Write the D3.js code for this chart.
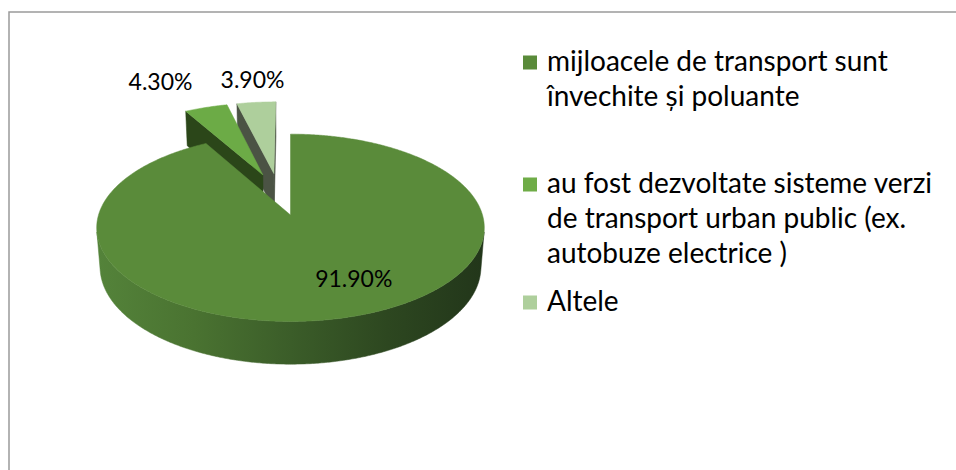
<!DOCTYPE html>
<html>
<head>
<meta charset="utf-8">
<script src="https://cdn.jsdelivr.net/npm/d3@7"></script>
<style>
  html, body { margin: 0; background: #fff; }
  svg { display: block; }
  text { font-family: Lato, "Open Sans", sans-serif; fill: #000; }
</style>
</head>
<body>
<script>
// ---- data ----
const categories = [
  "mijloacele de transport sunt învechite și poluante",
  "au fost dezvoltate sisteme verzi de transport urban public (ex. autobuze electrice )",
  "Altele"
];
const legendLines = [
  ["mijloacele de transport sunt", "învechite și poluante"],
  ["au fost dezvoltate sisteme verzi", "de transport urban public (ex.", "autobuze electrice )"],
  ["Altele"]
];
const values = [91.9, 4.3, 3.9];
const valueLabels = ["91.90%", "4.30%", "3.90%"];

// ---- styles ----
const topColors = ["#5a8b3a", "#6cab46", "#aecf9c"];
const cutColors = ["#2c4a1b", "#2b4619", "#4b5344"];
const swatchColors = ["#5a8b3a", "#6fac47", "#aecf9c"];

// ---- layout ----
const W = 956, H = 470;
const deg = Math.PI / 180;
const R = 192, thick = 45, explode = 47, tilt = 28.6 * deg, camDist = 1235;
const apexX = 290.5, apexY = 215;           // screen point of the largest wedge's apex
const labelNudge = [[7, -30], [-45.5, -17.5], [-3.7, -14]];
const legendX = 523, legendTextX = 547, swatch = 14, lineH = 35;
const legendBaselines = [71, 193, 311];

const svg = d3.select("body").append("svg")
  .attr("width", W).attr("height", H);

// chart frame (runs past the right and bottom edges)
svg.append("rect")
  .attr("x", 9).attr("y", 12)
  .attr("width", W).attr("height", H)
  .attr("fill", "none").attr("stroke", "#9a9a9a").attr("stroke-width", 1.5);

// ---- 3D pie geometry ----
const arcs = d3.pie().sort(null).value(d => d)(values).map((a, i) => {
  const mid = (a.startAngle + a.endAngle) / 2;
  return { ...a, i, mid, ox: explode * Math.sin(mid), oz: -explode * Math.cos(mid) };
});
const fx = arcs[0].ox, fz = arcs[0].oz;
const cam = [fx, camDist * Math.sin(tilt), fz + camDist * Math.cos(tilt)];

function project([x, y, z]) {
  const dx = x - fx, dz = z - fz;
  const u = y * Math.cos(tilt) - dz * Math.sin(tilt);
  const w = y * Math.sin(tilt) + dz * Math.cos(tilt);
  const s = camDist / (camDist - w);
  return [apexX + dx * s, apexY - u * s];
}
function depthOf([x, y, z]) {
  return y * Math.sin(tilt) + (z - fz) * Math.cos(tilt);
}
const rim = (a, t, y) => [a.ox + R * Math.sin(t), y, a.oz - R * Math.cos(t)];
const apex = (a, y) => [a.ox, y, a.oz];
const facing = (n, p) =>
  n[0] * (cam[0] - p[0]) + n[1] * (cam[1] - p[1]) + n[2] * (cam[2] - p[2]) > 0;
const angles = (t0, t1) => {
  const n = Math.max(2, Math.ceil((t1 - t0) / (0.5 * deg)));
  return d3.range(n + 1).map(k => t0 + (t1 - t0) * k / n);
};

function faces(a) {
  const list = [];
  const bottom = -thick;
  // radial cut faces
  [[a.startAngle, -1], [a.endAngle, 1]].forEach(([t, sgn]) => {
    const n = [sgn * Math.cos(t), 0, sgn * Math.sin(t)];
    if (facing(n, apex(a, 0))) {
      list.push({ kind: "cut", pts: [apex(a, 0), rim(a, t, 0), rim(a, t, bottom), apex(a, bottom)] });
    }
  });
  // outer wall, only the parts turned toward the viewer
  let run = [];
  const flush = () => {
    if (run.length > 1) {
      list.push({
        kind: "wall",
        pts: [...run.map(t => rim(a, t, 0)), ...run.slice().reverse().map(t => rim(a, t, bottom))]
      });
    }
    run = [];
  };
  angles(a.startAngle, a.endAngle).forEach(t => {
    const n = [Math.sin(t), 0, -Math.cos(t)];
    if (facing(n, rim(a, t, 0))) run.push(t); else flush();
  });
  flush();
  // top face
  list.push({ kind: "top", pts: [apex(a, 0), ...angles(a.startAngle, a.endAngle).map(t => rim(a, t, 0))] });
  return list;
}

// side shading gradient across the pie's width
const xs = angles(0, 2 * Math.PI).map(t => project(rim(arcs[0], t, 0))[0]);
const grad = svg.append("defs").append("linearGradient")
  .attr("id", "wallShade").attr("gradientUnits", "userSpaceOnUse")
  .attr("x1", d3.min(xs)).attr("x2", d3.max(xs)).attr("y1", 0).attr("y2", 0);
[[0, "#54833a"], [0.25, "#4a7331"], [0.5, "#3b5d29"], [0.75, "#2d4720"], [1, "#22361a"]]
  .forEach(([o, c]) => grad.append("stop").attr("offset", o).attr("stop-color", c));

const line = d3.line();
const order = arcs.slice().sort((p, q) => depthOf(apex(p, 0)) - depthOf(apex(q, 0)));

const pieG = svg.append("g");
order.forEach(a => {
  const g = pieG.append("g");
  faces(a).forEach(f => {
    const fill = f.kind === "top" ? topColors[a.i] : f.kind === "cut" ? cutColors[a.i] : "url(#wallShade)";
    g.append("path")
      .attr("d", line(f.pts.map(project)) + "Z")
      .attr("fill", fill)
      .attr("stroke", fill)
      .attr("stroke-width", 0.5)
      .attr("stroke-linejoin", "round");
  });
});

// data labels
arcs.forEach(a => {
  const [x, y] = project(rim(a, a.mid, 0));
  svg.append("text")
    .attr("x", x + labelNudge[a.i][0])
    .attr("y", y + labelNudge[a.i][1])
    .attr("text-anchor", "middle")
    .attr("font-size", 23)
    .text(valueLabels[a.i]);
});

// legend
const legend = svg.append("g");
legendLines.forEach((lines, i) => {
  const base = legendBaselines[i];
  legend.append("rect")
    .attr("x", legendX).attr("y", base - 8.5 - swatch / 2)
    .attr("width", swatch).attr("height", swatch)
    .attr("fill", swatchColors[i]);
  const t = legend.append("text")
    .attr("x", legendTextX).attr("y", base)
    .attr("font-size", 28);
  lines.forEach((s, k) => {
    t.append("tspan").attr("x", legendTextX).attr("y", base + k * lineH).text(s);
  });
});
</script>
</body>
</html>
